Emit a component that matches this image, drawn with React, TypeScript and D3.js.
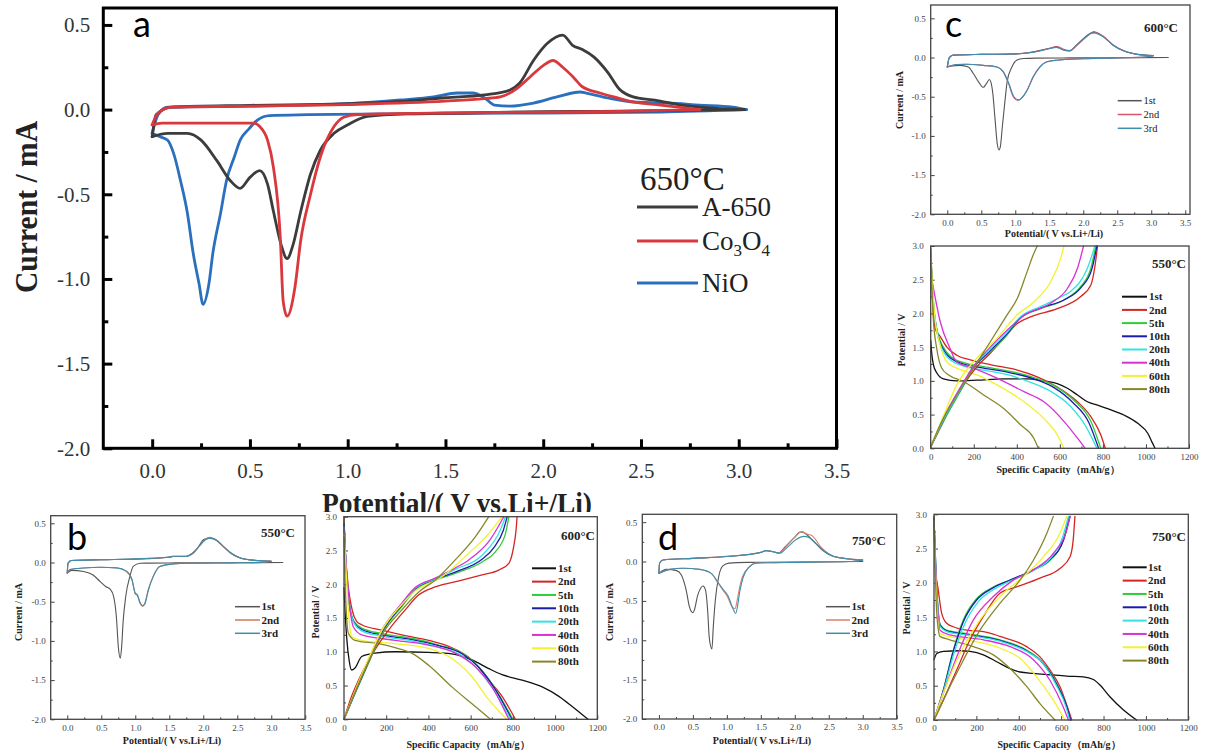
import React, { useEffect, useRef } from 'react';
import * as d3 from 'd3';

type P = [number, number];

const SERIF = 'Liberation Serif, Times New Roman, serif';
const SANS = 'Lato, Open Sans, sans-serif';

// ---------------- Panel a : CV at 650°C (V, mA) ----------------
const A650_CATHODIC: P[] = [[3.03, 0.0], [2.7, -0.005], [2.3, -0.01], [2.0, -0.012], [1.6, -0.02], [1.3, -0.025], [1.1, -0.04], [1.0, -0.09], [0.93, -0.14], [0.86, -0.24], [0.81, -0.38], [0.76, -0.6], [0.72, -0.8], [0.69, -0.88], [0.66, -0.8], [0.62, -0.6], [0.59, -0.44], [0.55, -0.36], [0.5, -0.4], [0.45, -0.465], [0.4, -0.42], [0.33, -0.3], [0.25, -0.18], [0.18, -0.14], [0.08, -0.14], [0.0, -0.16]];
const A650_ANODIC: P[] = [[0.0, -0.16], [0.02, -0.03], [0.1, 0.015], [0.5, 0.025], [1.0, 0.035], [1.3, 0.05], [1.5, 0.07], [1.7, 0.087], [1.83, 0.116], [1.88, 0.157], [1.95, 0.29], [2.02, 0.39], [2.1, 0.44], [2.15, 0.38], [2.2, 0.355], [2.26, 0.31], [2.33, 0.22], [2.39, 0.12], [2.46, 0.075], [2.56, 0.057], [2.69, 0.03], [2.85, 0.01], [3.03, 0.0]];
const CO3O4_CATHODIC: P[] = [[2.8, 0.0], [2.4, -0.01], [2.0, -0.015], [1.5, -0.02], [1.2, -0.025], [1.05, -0.03], [0.98, -0.045], [0.93, -0.1], [0.86, -0.28], [0.81, -0.5], [0.76, -0.77], [0.73, -1.05], [0.69, -1.22], [0.67, -1.13], [0.655, -0.75], [0.62, -0.34], [0.59, -0.18], [0.55, -0.1], [0.52, -0.08], [0.3, -0.08], [0.05, -0.08], [0.0, -0.09]];
const CO3O4_ANODIC: P[] = [[0.0, -0.09], [0.03, -0.02], [0.1, 0.015], [0.5, 0.02], [1.0, 0.03], [1.5, 0.05], [1.7, 0.065], [1.78, 0.075], [1.87, 0.128], [1.93, 0.19], [2.0, 0.26], [2.05, 0.29], [2.1, 0.25], [2.155, 0.19], [2.2, 0.135], [2.29, 0.098], [2.38, 0.069], [2.46, 0.045], [2.6, 0.027], [2.8, 0.0]];
const NIO_CATHODIC: P[] = [[3.04, 0.0], [2.6, -0.014], [2.0, -0.02], [1.2, -0.025], [0.8, -0.03], [0.6, -0.035], [0.54, -0.06], [0.49, -0.12], [0.45, -0.18], [0.42, -0.28], [0.38, -0.42], [0.35, -0.61], [0.31, -0.85], [0.29, -1.03], [0.26, -1.15], [0.24, -1.03], [0.21, -0.85], [0.18, -0.61], [0.145, -0.42], [0.11, -0.26], [0.078, -0.18], [0.04, -0.16], [0.0, -0.14]];
const NIO_ANODIC: P[] = [[0.0, -0.14], [0.03, -0.03], [0.08, 0.015], [0.5, 0.02], [1.0, 0.035], [1.27, 0.057], [1.44, 0.075], [1.56, 0.098], [1.64, 0.098], [1.7, 0.069], [1.75, 0.027], [1.83, 0.021], [1.95, 0.039], [2.07, 0.075], [2.19, 0.104], [2.22, 0.098], [2.33, 0.069], [2.46, 0.045], [2.63, 0.039], [2.8, 0.027], [2.97, 0.015], [3.04, 0.0]];
const A_LEGEND = ['A-650', 'Co3O4', 'NiO'];
const A_COLORS = ['#3c3c3c', '#d9393c', '#2b6fbf'];

// ---------------- Panel b : CV 550°C ----------------
const B1_CATHODIC: P[] = [[3.17, 0.0], [2.5, -0.002], [1.6, -0.005], [1.2, -0.008], [1.07, -0.01], [0.97, -0.05], [0.92, -0.18], [0.86, -0.43], [0.82, -0.77], [0.8, -1.07], [0.78, -1.22], [0.75, -1.07], [0.725, -0.73], [0.68, -0.43], [0.63, -0.34], [0.57, -0.31], [0.48, -0.24], [0.38, -0.16], [0.24, -0.115], [0.06, -0.1], [0.0, -0.135]];
const B1_ANODIC: P[] = [[0.0, -0.135], [0.01, -0.01], [0.06, 0.025], [0.5, 0.035], [1.0, 0.043], [1.5, 0.068], [1.56, 0.077], [1.75, 0.077], [1.84, 0.11], [1.93, 0.2], [2.0, 0.29], [2.07, 0.31], [2.15, 0.3], [2.27, 0.225], [2.39, 0.128], [2.51, 0.068], [2.69, 0.034], [2.99, 0.017]];
const B2_CATHODIC: P[] = [[2.99, 0.017], [2.85, 0.0], [2.4, -0.005], [1.8, -0.01], [1.56, -0.017], [1.36, -0.05], [1.26, -0.18], [1.19, -0.35], [1.14, -0.52], [1.11, -0.56], [1.07, -0.52], [1.03, -0.42], [1.0, -0.4], [0.95, -0.22], [0.87, -0.115], [0.73, -0.07], [0.48, -0.06], [0.24, -0.07], [0.04, -0.09], [0.0, -0.135]];
const B2_ANODIC: P[] = [[0.0, -0.135], [0.01, -0.01], [0.06, 0.025], [0.5, 0.035], [1.0, 0.045], [1.5, 0.07], [1.56, 0.08], [1.75, 0.078], [1.84, 0.12], [1.95, 0.22], [2.03, 0.3], [2.1, 0.32], [2.17, 0.3], [2.29, 0.21], [2.4, 0.125], [2.52, 0.066], [2.7, 0.032], [3.0, 0.015]];
const B3_CATHODIC: P[] = [[3.0, 0.015], [2.85, 0.0], [2.4, -0.005], [1.8, -0.01], [1.56, -0.018], [1.36, -0.052], [1.26, -0.19], [1.19, -0.36], [1.14, -0.53], [1.105, -0.55], [1.07, -0.51], [1.03, -0.41], [1.0, -0.39], [0.95, -0.21], [0.87, -0.11], [0.73, -0.068], [0.48, -0.06], [0.24, -0.07], [0.04, -0.09], [0.0, -0.13]];
const B3_ANODIC: P[] = [[0.0, -0.13], [0.01, -0.01], [0.06, 0.026], [0.5, 0.036], [1.0, 0.046], [1.5, 0.07], [1.56, 0.08], [1.75, 0.078], [1.84, 0.118], [1.95, 0.215], [2.04, 0.295], [2.12, 0.31], [2.19, 0.29], [2.3, 0.2], [2.42, 0.115], [2.54, 0.062], [2.72, 0.03], [3.0, 0.014]];

// ---------------- Panel c : CV 600°C ----------------
const C1_CATHODIC: P[] = [[3.25, 0.0], [2.5, -0.002], [1.8, -0.005], [1.3, -0.008], [1.12, -0.013], [1.02, -0.034], [0.95, -0.12], [0.88, -0.31], [0.85, -0.54], [0.81, -0.88], [0.78, -1.14], [0.76, -1.18], [0.735, -1.1], [0.7, -0.76], [0.67, -0.46], [0.64, -0.31], [0.62, -0.28], [0.57, -0.34], [0.53, -0.38], [0.46, -0.31], [0.38, -0.2], [0.31, -0.12], [0.19, -0.1], [0.04, -0.11], [0.0, -0.12]];
const C1_ANODIC: P[] = [[0.0, -0.12], [0.03, 0.0], [0.09, 0.03], [0.5, 0.04], [1.0, 0.045], [1.2, 0.06], [1.5, 0.115], [1.61, 0.136], [1.7, 0.1], [1.8, 0.085], [1.9, 0.157], [2.0, 0.24], [2.12, 0.315], [2.17, 0.32], [2.29, 0.27], [2.44, 0.157], [2.59, 0.085], [2.78, 0.042], [3.03, 0.025]];
const C2_CATHODIC: P[] = [[3.03, 0.02], [2.9, 0.005], [2.5, -0.005], [2.0, -0.015], [1.6, -0.034], [1.46, -0.055], [1.36, -0.12], [1.26, -0.25], [1.17, -0.42], [1.09, -0.52], [1.04, -0.545], [0.97, -0.5], [0.9, -0.33], [0.82, -0.18], [0.73, -0.12], [0.53, -0.1], [0.28, -0.085], [0.14, -0.09], [0.0, -0.12]];
const C2_ANODIC: P[] = [[0.0, -0.12], [0.03, 0.0], [0.09, 0.03], [0.5, 0.04], [1.0, 0.047], [1.2, 0.062], [1.5, 0.118], [1.62, 0.14], [1.71, 0.105], [1.8, 0.088], [1.9, 0.15], [2.0, 0.23], [2.1, 0.3], [2.15, 0.33], [2.28, 0.28], [2.44, 0.16], [2.6, 0.085], [2.8, 0.04], [3.03, 0.022]];
const C3_CATHODIC: P[] = [[3.03, 0.022], [2.9, 0.006], [2.5, -0.005], [2.0, -0.016], [1.6, -0.035], [1.46, -0.058], [1.36, -0.125], [1.27, -0.24], [1.18, -0.41], [1.1, -0.51], [1.05, -0.54], [0.98, -0.5], [0.91, -0.34], [0.83, -0.19], [0.73, -0.12], [0.53, -0.1], [0.28, -0.085], [0.14, -0.09], [0.0, -0.125]];
const C3_ANODIC: P[] = [[0.0, -0.125], [0.03, 0.0], [0.09, 0.03], [0.5, 0.04], [1.0, 0.046], [1.2, 0.06], [1.5, 0.112], [1.6, 0.13], [1.7, 0.1], [1.8, 0.086], [1.9, 0.155], [2.0, 0.235], [2.11, 0.305], [2.16, 0.315], [2.3, 0.26], [2.45, 0.15], [2.6, 0.082], [2.8, 0.04], [3.03, 0.025]];

// ---------------- Panel d : CV 750°C ----------------
const D1_CATHODIC: P[] = [[3.0, 0.0], [2.0, -0.005], [1.3, -0.01], [1.03, -0.02], [0.94, -0.055], [0.88, -0.19], [0.83, -0.49], [0.8, -0.83], [0.78, -1.11], [0.74, -0.96], [0.72, -0.66], [0.685, -0.36], [0.65, -0.31], [0.62, -0.33], [0.57, -0.43], [0.52, -0.62], [0.5, -0.65], [0.45, -0.58], [0.4, -0.36], [0.33, -0.17], [0.26, -0.115], [0.11, -0.1], [0.0, -0.15]];
const D1_ANODIC: P[] = [[0.0, -0.15], [0.01, -0.02], [0.06, 0.02], [0.5, 0.04], [1.0, 0.064], [1.5, 0.115], [1.57, 0.137], [1.67, 0.128], [1.76, 0.107], [1.86, 0.19], [2.0, 0.31], [2.08, 0.376], [2.15, 0.36], [2.25, 0.28], [2.4, 0.15], [2.54, 0.073], [2.74, 0.038], [2.98, 0.02]];
const D2_CATHODIC: P[] = [[3.0, 0.02], [2.8, 0.0], [2.0, -0.01], [1.6, -0.015], [1.42, -0.02], [1.33, -0.065], [1.23, -0.19], [1.18, -0.36], [1.15, -0.5], [1.12, -0.6], [1.08, -0.58], [1.01, -0.45], [0.94, -0.36], [0.86, -0.26], [0.77, -0.15], [0.6, -0.1], [0.35, -0.085], [0.16, -0.1], [0.0, -0.15]];
const D2_ANODIC: P[] = [[0.0, -0.15], [0.01, -0.02], [0.06, 0.02], [0.5, 0.04], [1.0, 0.065], [1.5, 0.118], [1.58, 0.14], [1.68, 0.125], [1.77, 0.108], [1.88, 0.2], [2.0, 0.31], [2.1, 0.38], [2.18, 0.35], [2.25, 0.33], [2.4, 0.17], [2.55, 0.075], [2.75, 0.038], [3.0, 0.02]];
const D3_CATHODIC: P[] = [[3.0, 0.02], [2.8, 0.0], [2.0, -0.01], [1.6, -0.015], [1.42, -0.022], [1.33, -0.07], [1.24, -0.2], [1.19, -0.38], [1.16, -0.55], [1.13, -0.66], [1.09, -0.6], [1.02, -0.44], [0.94, -0.35], [0.86, -0.25], [0.77, -0.15], [0.6, -0.1], [0.35, -0.085], [0.16, -0.1], [0.0, -0.15]];
const D3_ANODIC: P[] = [[0.0, -0.15], [0.01, -0.02], [0.06, 0.02], [0.5, 0.04], [1.0, 0.064], [1.5, 0.116], [1.58, 0.138], [1.68, 0.124], [1.78, 0.106], [1.9, 0.19], [2.02, 0.28], [2.13, 0.32], [2.2, 0.31], [2.3, 0.24], [2.42, 0.14], [2.56, 0.07], [2.76, 0.036], [3.0, 0.02]];

const CV_LEGEND = ['1st', '2nd', '3rd'];

// ---------------- GCD 550°C (mAh/g, V) ----------------
const G550_D1: P[] = [[0, 1.6], [5, 1.4], [12, 1.25], [28, 1.12], [59, 1.03], [121, 1.0], [215, 1.01], [339, 1.03], [450, 1.03], [520, 1.0], [588, 0.96], [635, 0.89], [682, 0.79], [728, 0.69], [775, 0.64], [837, 0.57], [900, 0.49], [962, 0.37], [1009, 0.22], [1030, 0.08], [1042, 0.0]];
const G550_D2: P[] = [[0, 2.97], [9, 2.17], [20, 1.78], [44, 1.66], [75, 1.5], [121, 1.38], [184, 1.31], [277, 1.24], [402, 1.16], [495, 1.06], [588, 0.91], [682, 0.69], [744, 0.47], [790, 0.2], [811, 0.0]];
const G550_D5: P[] = [[0, 2.95], [12, 2.17], [28, 1.78], [59, 1.5], [90, 1.37], [153, 1.27], [246, 1.21], [370, 1.14], [479, 1.05], [573, 0.93], [666, 0.71], [744, 0.4], [790, 0.0]];
const G550_D10: P[] = [[0, 2.9], [14, 2.1], [30, 1.72], [62, 1.45], [95, 1.33], [153, 1.25], [246, 1.19], [370, 1.12], [479, 1.03], [573, 0.9], [660, 0.68], [735, 0.38], [780, 0.0]];
const G550_D20: P[] = [[0, 2.85], [16, 2.05], [34, 1.66], [66, 1.4], [100, 1.29], [153, 1.22], [246, 1.16], [370, 1.08], [470, 0.97], [560, 0.84], [650, 0.62], [720, 0.33], [772, 0.0]];
const G550_D40: P[] = [[0, 2.6], [20, 2.25], [44, 1.88], [90, 1.48], [121, 1.28], [199, 1.19], [308, 1.04], [433, 0.84], [526, 0.69], [619, 0.4], [682, 0.15], [717, 0.0]];
const G550_D60: P[] = [[0, 2.97], [5, 2.6], [20, 1.93], [44, 1.53], [75, 1.28], [121, 1.19], [215, 1.09], [308, 0.94], [433, 0.69], [526, 0.44], [588, 0.2], [619, 0.0]];
const G550_D80: P[] = [[0, 2.97], [12, 1.93], [28, 1.48], [51, 1.19], [82, 1.09], [153, 0.99], [246, 0.79], [339, 0.59], [417, 0.35], [479, 0.15], [500, 0.0]];
const G550_C2: P[] = [[0, 0.02], [44, 0.3], [90, 0.59], [153, 0.94], [215, 1.21], [277, 1.41], [339, 1.63], [402, 1.85], [464, 1.95], [588, 2.07], [697, 2.25], [744, 2.42], [763, 2.7], [775, 3.0]];
const G550_C5: P[] = [[0, 0.02], [59, 0.4], [137, 0.84], [199, 1.19], [277, 1.43], [355, 1.68], [417, 1.93], [510, 2.07], [619, 2.2], [697, 2.4], [744, 2.67], [767, 3.0]];
const G550_C10: P[] = [[0, 0.02], [59, 0.42], [137, 0.86], [199, 1.2], [277, 1.45], [355, 1.7], [417, 1.94], [510, 2.08], [619, 2.2], [697, 2.38], [748, 2.65], [772, 3.0]];
const G550_C20: P[] = [[0, 0.02], [59, 0.42], [137, 0.86], [199, 1.21], [277, 1.47], [355, 1.72], [417, 1.95], [510, 2.1], [600, 2.24], [651, 2.33], [728, 2.67], [763, 3.0]];
const G550_C40: P[] = [[0, 0.02], [59, 0.45], [137, 0.9], [199, 1.22], [277, 1.5], [355, 1.75], [433, 1.97], [557, 2.15], [635, 2.37], [682, 2.67], [710, 3.0]];
const G550_C60: P[] = [[0, 0.02], [59, 0.48], [121, 0.94], [215, 1.34], [308, 1.63], [402, 1.98], [479, 2.17], [557, 2.47], [604, 2.82], [619, 3.0]];
const G550_C80: P[] = [[0, 0.02], [44, 0.35], [121, 0.79], [199, 1.19], [277, 1.58], [355, 1.98], [402, 2.22], [448, 2.62], [479, 2.89], [495, 3.0]];

// ---------------- GCD 600°C ----------------
const G600_D1: P[] = [[0, 1.95], [5, 1.6], [13, 1.2], [24, 0.88], [36, 0.73], [52, 0.76], [84, 0.93], [147, 0.98], [242, 1.0], [401, 0.99], [511, 0.97], [606, 0.88], [686, 0.75], [749, 0.66], [844, 0.58], [939, 0.48], [1018, 0.34], [1081, 0.19], [1156, 0.0]];
const G600_D2: P[] = [[0, 3.0], [5, 2.56], [17, 2.06], [40, 1.6], [60, 1.45], [84, 1.4], [179, 1.32], [274, 1.25], [401, 1.17], [496, 1.08], [606, 0.88], [686, 0.58], [749, 0.34], [812, 0.0]];
const G600_D5: P[] = [[0, 2.95], [5, 2.56], [21, 1.82], [44, 1.47], [84, 1.35], [179, 1.27], [321, 1.2], [448, 1.1], [559, 0.98], [638, 0.78], [717, 0.45], [800, 0.0]];
const G600_D10: P[] = [[0, 2.9], [6, 2.5], [22, 1.78], [46, 1.44], [84, 1.33], [179, 1.25], [321, 1.18], [448, 1.09], [559, 0.97], [638, 0.77], [717, 0.44], [795, 0.0]];
const G600_D20: P[] = [[0, 2.85], [7, 2.45], [24, 1.74], [48, 1.42], [84, 1.31], [179, 1.23], [321, 1.16], [448, 1.07], [555, 0.95], [630, 0.75], [710, 0.43], [790, 0.0]];
const G600_D40: P[] = [[0, 2.8], [8, 2.4], [26, 1.7], [44, 1.37], [84, 1.25], [242, 1.17], [401, 1.1], [527, 0.98], [622, 0.78], [701, 0.48], [781, 0.0]];
const G600_D60: P[] = [[0, 2.75], [8, 2.3], [22, 1.55], [36, 1.22], [84, 1.17], [242, 1.12], [401, 1.05], [511, 0.9], [606, 0.63], [686, 0.29], [770, 0.0]];
const G600_D80: P[] = [[0, 2.7], [5, 2.06], [21, 1.27], [52, 1.17], [163, 1.12], [242, 1.06], [321, 0.98], [401, 0.8], [511, 0.48], [622, 0.19], [694, 0.0]];
const G600_C2: P[] = [[0, 0.0], [36, 0.34], [84, 0.68], [147, 1.03], [211, 1.32], [290, 1.62], [353, 1.84], [432, 1.96], [559, 2.06], [654, 2.14], [733, 2.21], [781, 2.31], [804, 2.56], [815, 2.8], [820, 3.0]];
const G600_C5: P[] = [[0, 0.0], [52, 0.38], [116, 0.83], [179, 1.27], [274, 1.67], [337, 1.91], [432, 2.06], [527, 2.16], [654, 2.33], [717, 2.48], [765, 2.75], [781, 3.0]];
const G600_C10: P[] = [[0, 0.0], [52, 0.39], [116, 0.85], [179, 1.29], [274, 1.69], [337, 1.93], [432, 2.07], [527, 2.18], [654, 2.37], [712, 2.55], [755, 2.8], [773, 3.0]];
const G600_C20: P[] = [[0, 0.0], [52, 0.4], [116, 0.87], [179, 1.31], [274, 1.71], [337, 1.94], [432, 2.08], [527, 2.22], [654, 2.43], [740, 2.8], [765, 3.0]];
const G600_C40: P[] = [[0, 0.0], [52, 0.41], [116, 0.88], [179, 1.32], [274, 1.72], [337, 1.95], [432, 2.09], [527, 2.24], [591, 2.36], [690, 2.65], [757, 3.0]];
const G600_C60: P[] = [[0, 0.0], [52, 0.42], [116, 0.9], [179, 1.32], [274, 1.7], [337, 1.9], [464, 2.11], [591, 2.46], [686, 2.75], [749, 3.0]];
const G600_C80: P[] = [[0, 0.0], [52, 0.4], [116, 0.85], [179, 1.25], [274, 1.62], [360, 1.9], [432, 2.06], [527, 2.36], [622, 2.7], [686, 3.0]];

// ---------------- GCD 750°C ----------------
const G750_D1: P[] = [[0, 0.88], [13, 0.97], [44, 1.0], [123, 1.01], [170, 1.0], [233, 0.95], [296, 0.85], [359, 0.75], [406, 0.7], [469, 0.68], [547, 0.66], [626, 0.64], [705, 0.63], [752, 0.59], [783, 0.51], [830, 0.34], [893, 0.15], [956, 0.0]];
const G750_D2: P[] = [[0, 2.97], [5, 2.28], [20, 1.9], [36, 1.56], [60, 1.41], [91, 1.36], [154, 1.31], [233, 1.29], [311, 1.22], [437, 1.07], [500, 0.92], [547, 0.73], [594, 0.49], [634, 0.15], [650, 0.0]];
const G750_D5: P[] = [[0, 2.97], [13, 1.9], [28, 1.4], [60, 1.31], [154, 1.26], [311, 1.17], [437, 1.02], [516, 0.83], [579, 0.53], [626, 0.19], [642, 0.0]];
const G750_D10: P[] = [[0, 2.95], [14, 1.85], [30, 1.38], [60, 1.3], [154, 1.25], [311, 1.16], [437, 1.01], [516, 0.82], [579, 0.52], [628, 0.18], [645, 0.0]];
const G750_D20: P[] = [[0, 2.9], [15, 1.8], [30, 1.36], [60, 1.29], [154, 1.24], [311, 1.15], [437, 1.0], [510, 0.84], [575, 0.52], [624, 0.18], [640, 0.0]];
const G750_D40: P[] = [[0, 2.85], [16, 1.7], [28, 1.31], [75, 1.24], [233, 1.17], [359, 1.07], [469, 0.88], [547, 0.58], [610, 0.19], [634, 0.0]];
const G750_D60: P[] = [[0, 2.8], [15, 1.6], [28, 1.26], [154, 1.17], [311, 1.05], [406, 0.9], [484, 0.63], [563, 0.29], [618, 0.0]];
const G750_D80: P[] = [[0, 2.97], [13, 1.56], [28, 1.22], [75, 1.17], [186, 1.07], [280, 0.95], [359, 0.75], [437, 0.49], [500, 0.24], [571, 0.0]];
const G750_C2: P[] = [[0, 0.0], [44, 0.29], [107, 0.73], [170, 1.17], [233, 1.51], [311, 1.85], [390, 1.94], [500, 2.07], [594, 2.21], [642, 2.38], [657, 2.63], [665, 2.97]];
const G750_C5: P[] = [[0, 0.0], [44, 0.44], [91, 1.02], [138, 1.46], [201, 1.77], [280, 1.94], [359, 2.04], [469, 2.19], [547, 2.33], [610, 2.63], [637, 2.97]];
const G750_C10: P[] = [[0, 0.0], [44, 0.43], [91, 1.0], [138, 1.43], [201, 1.75], [280, 1.93], [359, 2.04], [469, 2.19], [547, 2.34], [612, 2.63], [642, 2.97]];
const G750_C20: P[] = [[0, 0.0], [44, 0.41], [95, 0.98], [145, 1.4], [210, 1.73], [290, 1.92], [370, 2.04], [469, 2.18], [547, 2.35], [605, 2.65], [634, 2.97]];
const G750_C40: P[] = [[0, 0.0], [44, 0.39], [107, 0.92], [186, 1.46], [280, 1.8], [374, 2.04], [469, 2.19], [563, 2.43], [626, 2.77], [642, 2.97]];
const G750_C60: P[] = [[0, 0.0], [44, 0.39], [123, 0.97], [217, 1.46], [311, 1.8], [421, 2.09], [516, 2.38], [594, 2.72], [626, 2.97]];
const G750_C80: P[] = [[0, 0.0], [44, 0.29], [123, 0.78], [217, 1.31], [311, 1.7], [406, 2.04], [469, 2.33], [532, 2.72], [563, 2.97]];

const GCD_CYCLES = ['1st', '2nd', '5th', '10th', '20th', '40th', '60th', '80th'];
const GCD_COLORS = ['#111111', '#d42424', '#2ecc3a', '#1c1caa', '#33e3e3', '#d632d6', '#f2f230', '#87872a'];

// ---------------- ticks ----------------
const CV_X_MAJOR = [0, 0.5, 1, 1.5, 2, 2.5, 3, 3.5];
const CV_X_MINOR = [0.25, 0.75, 1.25, 1.75, 2.25, 2.75, 3.25];
const CV_Y_MAJOR = [-2, -1.5, -1, -0.5, 0, 0.5];
const CV_Y_MINOR = [-1.75, -1.25, -0.75, -0.25, 0.25];
const GCD_X_MAJOR = [0, 200, 400, 600, 800, 1000, 1200];
const GCD_X_MINOR = [100, 300, 500, 700, 900, 1100];
const GCD_Y_MAJOR = [0, 0.5, 1, 1.5, 2, 2.5, 3];
const GCD_Y_MINOR = [0.25, 0.75, 1.25, 1.75, 2.25, 2.75];

const f1 = (v: any) => (+v).toFixed(1);
const f0 = (v: any) => String(+v);

function makePanel(root: any, o: any) {
  const xs = d3.scaleLinear().domain(o.xd).range(o.px);
  const ys = d3.scaleLinear().domain(o.yd).range([o.py[1], o.py[0]]);
  const g = root.append('g');
  const style = (sel: any) => {
    sel.attr('font-family', SERIF).attr('font-size', o.font);
    sel.select('.domain').remove();
    sel.selectAll('line').attr('stroke', o.frameC).attr('stroke-width', o.tickW);
    sel.selectAll('text').attr('font-family', SERIF).style('font-family', SERIF).attr('font-size', o.font).attr('fill', o.labelC);
  };
  g.append('g').attr('transform', `translate(0,${o.py[1]})`)
    .call(d3.axisBottom(xs).tickValues(o.xMinor).tickSize(-o.minor).tickFormat(() => '')).call(style);
  g.append('g').attr('transform', `translate(0,${o.py[1]})`)
    .call(d3.axisBottom(xs).tickValues(o.xMajor).tickSize(-o.tick).tickPadding(o.padX).tickFormat(o.xFmt)).call(style);
  g.append('g').attr('transform', `translate(${o.px[0]},0)`)
    .call(d3.axisLeft(ys).tickValues(o.yMinor).tickSize(-o.minor).tickFormat(() => '')).call(style);
  g.append('g').attr('transform', `translate(${o.px[0]},0)`)
    .call(d3.axisLeft(ys).tickValues(o.yMajor).tickSize(-o.tick).tickPadding(o.padY).tickFormat(o.yFmt)).call(style);
  const curves = g.append('g');
  g.append('rect').attr('x', o.px[0]).attr('y', o.py[0]).attr('width', o.px[1] - o.px[0]).attr('height', o.py[1] - o.py[0])
    .attr('fill', 'none').attr('stroke', o.frameC).attr('stroke-width', o.frameW);
  return { xs, ys, g, curves };
}

function drawCurve(p: any, pts: P[], color: string, w: number) {
  const sorted = [...pts].sort((a, b) => a[0] - b[0]);
  const line = d3.line<P>().x(d => p.xs(d[0])).y(d => p.ys(d[1])).curve(d3.curveMonotoneX);
  p.curves.append('path').attr('d', line(sorted)).attr('fill', 'none').attr('stroke', color)
    .attr('stroke-width', w).attr('stroke-linejoin', 'round').attr('stroke-linecap', 'round');
}

function legend(root: any, labels: string[], colors: string[], x1: number, x2: number, tx: number, y0: number, dy: number, font: number, bold: boolean, lw: number) {
  labels.forEach((lab, i) => {
    const y = y0 + i * dy;
    root.append('line').attr('x1', x1).attr('x2', x2).attr('y1', y).attr('y2', y).attr('stroke', colors[i]).attr('stroke-width', lw);
    root.append('text').attr('x', tx).attr('y', y + font * 0.33).attr('font-family', SERIF).attr('font-size', font)
      .attr('font-weight', bold ? 'bold' : 'normal').attr('fill', '#222').text(lab);
  });
}

function txt(root: any, x: number, y: number, s: string, size: number, opts: any = {}) {
  const t = root.append('text').attr('x', x).attr('y', y).attr('font-family', opts.family || SERIF).attr('font-size', size)
    .attr('font-weight', opts.bold ? 'bold' : 'normal').attr('fill', opts.fill || '#222').attr('text-anchor', opts.anchor || 'start');
  if (opts.rotate) t.attr('transform', `rotate(-90,${x},${y})`);
  if (opts.len) t.attr('textLength', opts.len).attr('lengthAdjust', 'spacingAndGlyphs');
  if (opts.clip) t.attr('clip-path', opts.clip);
  t.text(s);
  return t;
}

const SMALL = { font: 9, frameC: '#444', labelC: '#444', frameW: 1.3, tickW: 1, tick: 4, minor: 2, padX: 5, padY: 5 };

export default function App() {
  const ref = useRef<SVGSVGElement>(null);
  useEffect(() => {
    const svg = d3.select(ref.current);
    svg.selectAll('*').remove();
    svg.append('rect').attr('width', 1208).attr('height', 755).attr('fill', '#fff');
    const defs = svg.append('defs');
    defs.append('clipPath').attr('id', 'clipTop').append('rect').attr('x', 0).attr('y', 0).attr('width', 1208).attr('height', 512);

    // ---------- Panel a ----------
    const pa = makePanel(svg, {
      px: [103.3, 836.5], py: [8, 448.3], xd: [-0.25, 3.5], yd: [-2.0, 0.6],
      xMajor: CV_X_MAJOR, xMinor: CV_X_MINOR, yMajor: CV_Y_MAJOR, yMinor: CV_Y_MINOR,
      xFmt: f1, yFmt: f1, font: 21, frameC: '#000', labelC: '#333', frameW: 3, tickW: 3, tick: 9, minor: 5, padX: 15, padY: 13,
    });
    drawCurve(pa, NIO_CATHODIC, A_COLORS[2], 2.8);
    drawCurve(pa, NIO_ANODIC, A_COLORS[2], 2.8);
    drawCurve(pa, A650_CATHODIC, A_COLORS[0], 2.8);
    drawCurve(pa, A650_ANODIC, A_COLORS[0], 2.8);
    drawCurve(pa, CO3O4_CATHODIC, A_COLORS[1], 2.8);
    drawCurve(pa, CO3O4_ANODIC, A_COLORS[1], 2.8);
    txt(svg, 640, 190, '650°C', 33, { fill: '#222' });
    const aY = [207, 241, 283];
    A_LEGEND.forEach((lab, i) => {
      svg.append('line').attr('x1', 637).attr('x2', 698).attr('y1', aY[i]).attr('y2', aY[i]).attr('stroke', A_COLORS[i]).attr('stroke-width', 3);
      const t = svg.append('text').attr('x', 702).attr('y', aY[i] + 9).attr('font-family', SERIF).attr('font-size', 27).attr('fill', '#222');
      if (lab === 'Co3O4') {
        t.append('tspan').text('Co');
        t.append('tspan').attr('font-size', 17).attr('dy', 6).text('3');
        t.append('tspan').attr('dy', -6).text('O');
        t.append('tspan').attr('font-size', 17).attr('dy', 6).text('4');
      } else t.text(lab);
    });
    txt(svg, 37, 207, 'Current / mA', 31, { bold: true, rotate: true, anchor: 'middle', len: 172, fill: '#222' });
    txt(svg, 457, 513, 'Potential/( V vs.Li+/Li)', 30, { bold: true, anchor: 'middle', len: 270, clip: 'url(#clipTop)', fill: '#222' });
    txt(svg, 133, 37, 'a', 36, { family: SANS, fill: '#000' });

    // ---------- Panel c (CV 600°C) ----------
    const pc = makePanel(svg, { ...SMALL, px: [930.7, 1190], py: [5, 214.3], xd: [-0.244, 3.57], yd: [-2.0, 0.67],
      xMajor: CV_X_MAJOR, xMinor: CV_X_MINOR, yMajor: CV_Y_MAJOR, yMinor: CV_Y_MINOR, xFmt: f1, yFmt: f1 });
    const cvC = ['#555555', '#d9536b', '#3b8fb0'];
    drawCurve(pc, C1_CATHODIC, cvC[0], 1.1); drawCurve(pc, C1_ANODIC, cvC[0], 1.1);
    drawCurve(pc, C2_CATHODIC, cvC[1], 1.1); drawCurve(pc, C2_ANODIC, cvC[1], 1.1);
    drawCurve(pc, C3_CATHODIC, cvC[2], 1.1); drawCurve(pc, C3_ANODIC, cvC[2], 1.1);
    legend(svg, CV_LEGEND, cvC, 1117.7, 1141.7, 1143.5, 100.7, 13.8, 10.5, false, 1.5);
    txt(svg, 1178, 32, '600°C', 13, { bold: true, anchor: 'end' });
    txt(svg, 903, 100, 'Current / mA', 10, { bold: true, rotate: true, anchor: 'middle' });
    txt(svg, 1054, 237, 'Potential/( V vs.Li+/Li)', 10, { bold: true, anchor: 'middle' });
    txt(svg, 945, 37, 'c', 36, { family: SANS, fill: '#000' });

    // ---------- GCD 550°C ----------
    const g550 = makePanel(svg, { ...SMALL, px: [930.7, 1189], py: [246, 448.3], xd: [0, 1200], yd: [0, 3],
      xMajor: GCD_X_MAJOR, xMinor: GCD_X_MINOR, yMajor: GCD_Y_MAJOR, yMinor: GCD_Y_MINOR, xFmt: f0, yFmt: f1, padY: 7 });
    [G550_D1, G550_D2, G550_D5, G550_D10, G550_D20, G550_D40, G550_D60, G550_D80].forEach((d, i) => drawCurve(g550, d, GCD_COLORS[i], 1.3));
    [G550_C2, G550_C5, G550_C10, G550_C20, G550_C40, G550_C60, G550_C80].forEach((d, i) => drawCurve(g550, d, GCD_COLORS[i + 1], 1.3));
    legend(svg, GCD_CYCLES, GCD_COLORS, 1122, 1147, 1149, 296.7, 13.2, 11, true, 2);
    txt(svg, 1186, 268, '550°C', 13, { bold: true, anchor: 'end' });
    txt(svg, 905, 340, 'Potential / V', 10, { bold: true, rotate: true, anchor: 'middle' });
    txt(svg, 1058, 473, 'Specific Capacity（mAh/g）', 10, { bold: true, anchor: 'middle' });

    // ---------- Panel b (CV 550°C) ----------
    const pb = makePanel(svg, { ...SMALL, px: [50.7, 305], py: [515.7, 719.3], xd: [-0.244, 3.496], yd: [-2.0, 0.597],
      xMajor: CV_X_MAJOR, xMinor: CV_X_MINOR, yMajor: CV_Y_MAJOR, yMinor: CV_Y_MINOR, xFmt: f1, yFmt: f1 });
    const cvB = ['#555555', '#c8785c', '#3b8fb0'];
    drawCurve(pb, B1_CATHODIC, cvB[0], 1.1); drawCurve(pb, B1_ANODIC, cvB[0], 1.1);
    drawCurve(pb, B2_CATHODIC, cvB[1], 1.1); drawCurve(pb, B2_ANODIC, cvB[1], 1.1);
    drawCurve(pb, B3_CATHODIC, cvB[2], 1.1); drawCurve(pb, B3_ANODIC, cvB[2], 1.1);
    legend(svg, CV_LEGEND, cvB, 235, 260, 261.5, 606.7, 13.3, 11, true, 1.5);
    txt(svg, 295, 537, '550°C', 13, { bold: true, anchor: 'end' });
    txt(svg, 22, 612, 'Current / mA', 10, { bold: true, rotate: true, anchor: 'middle' });
    txt(svg, 172, 744, 'Potential/( V vs.Li+/Li)', 10, { bold: true, anchor: 'middle' });
    txt(svg, 67, 550, 'b', 36, { family: SANS, fill: '#000' });

    // ---------- GCD 600°C ----------
    const g600 = makePanel(svg, { ...SMALL, px: [344, 597.3], py: [516.7, 719.3], xd: [0, 1200], yd: [0, 3],
      xMajor: GCD_X_MAJOR, xMinor: GCD_X_MINOR, yMajor: GCD_Y_MAJOR, yMinor: GCD_Y_MINOR, xFmt: f0, yFmt: f1, padY: 7 });
    [G600_D1, G600_D2, G600_D5, G600_D10, G600_D20, G600_D40, G600_D60, G600_D80].forEach((d, i) => drawCurve(g600, d, GCD_COLORS[i], 1.3));
    [G600_C2, G600_C5, G600_C10, G600_C20, G600_C40, G600_C60, G600_C80].forEach((d, i) => drawCurve(g600, d, GCD_COLORS[i + 1], 1.3));
    legend(svg, GCD_CYCLES, GCD_COLORS, 532, 556, 558, 568.3, 13.33, 11, true, 2);
    txt(svg, 595, 540, '600°C', 13, { bold: true, anchor: 'end' });
    txt(svg, 319, 612, 'Potential / V', 10, { bold: true, rotate: true, anchor: 'middle' });
    txt(svg, 468, 748, 'Specific Capacity（mAh/g）', 10, { bold: true, anchor: 'middle' });

    // ---------- Panel d (CV 750°C) ----------
    const pd = makePanel(svg, { ...SMALL, px: [642.3, 896.7], py: [514.3, 719], xd: [-0.245, 3.5], yd: [-2.0, 0.6],
      xMajor: CV_X_MAJOR, xMinor: CV_X_MINOR, yMajor: CV_Y_MAJOR, yMinor: CV_Y_MINOR, xFmt: f1, yFmt: f1 });
    const cvD = ['#555555', '#d9826b', '#3b8fb0'];
    drawCurve(pd, D1_CATHODIC, cvD[0], 1.1); drawCurve(pd, D1_ANODIC, cvD[0], 1.1);
    drawCurve(pd, D2_CATHODIC, cvD[1], 1.1); drawCurve(pd, D2_ANODIC, cvD[1], 1.1);
    drawCurve(pd, D3_CATHODIC, cvD[2], 1.1); drawCurve(pd, D3_ANODIC, cvD[2], 1.1);
    legend(svg, CV_LEGEND, cvD, 826, 850, 851.5, 606.7, 13.3, 11, true, 1.5);
    txt(svg, 886, 545, '750°C', 13, { bold: true, anchor: 'end' });
    txt(svg, 613, 612, 'Current / mA', 10, { bold: true, rotate: true, anchor: 'middle' });
    txt(svg, 762, 744, 'Potential/( V vs.Li+/Li)', 10, { bold: true, anchor: 'middle' });
    txt(svg, 658, 550, 'd', 36, { family: SANS, fill: '#000' });

    // ---------- GCD 750°C ----------
    const g750 = makePanel(svg, { ...SMALL, px: [934, 1188.3], py: [514.3, 720], xd: [0, 1200], yd: [0, 3],
      xMajor: GCD_X_MAJOR, xMinor: GCD_X_MINOR, yMajor: GCD_Y_MAJOR, yMinor: GCD_Y_MINOR, xFmt: f0, yFmt: f1, padY: 7 });
    [G750_D1, G750_D2, G750_D5, G750_D10, G750_D20, G750_D40, G750_D60, G750_D80].forEach((d, i) => drawCurve(g750, d, GCD_COLORS[i], 1.3));
    [G750_C2, G750_C5, G750_C10, G750_C20, G750_C40, G750_C60, G750_C80].forEach((d, i) => drawCurve(g750, d, GCD_COLORS[i + 1], 1.3));
    legend(svg, GCD_CYCLES, GCD_COLORS, 1122.7, 1146.7, 1148, 567.3, 13.33, 11, true, 2);
    txt(svg, 1186, 541, '750°C', 13, { bold: true, anchor: 'end' });
    txt(svg, 910, 608, 'Potential / V', 10, { bold: true, rotate: true, anchor: 'middle' });
    txt(svg, 1059, 748, 'Specific Capacity（mAh/g）', 10, { bold: true, anchor: 'middle' });
  }, []);
  return <svg ref={ref} width={1208} height={755} style={{ position: 'absolute', left: 0, top: 0, display: 'block' }} />;
}
